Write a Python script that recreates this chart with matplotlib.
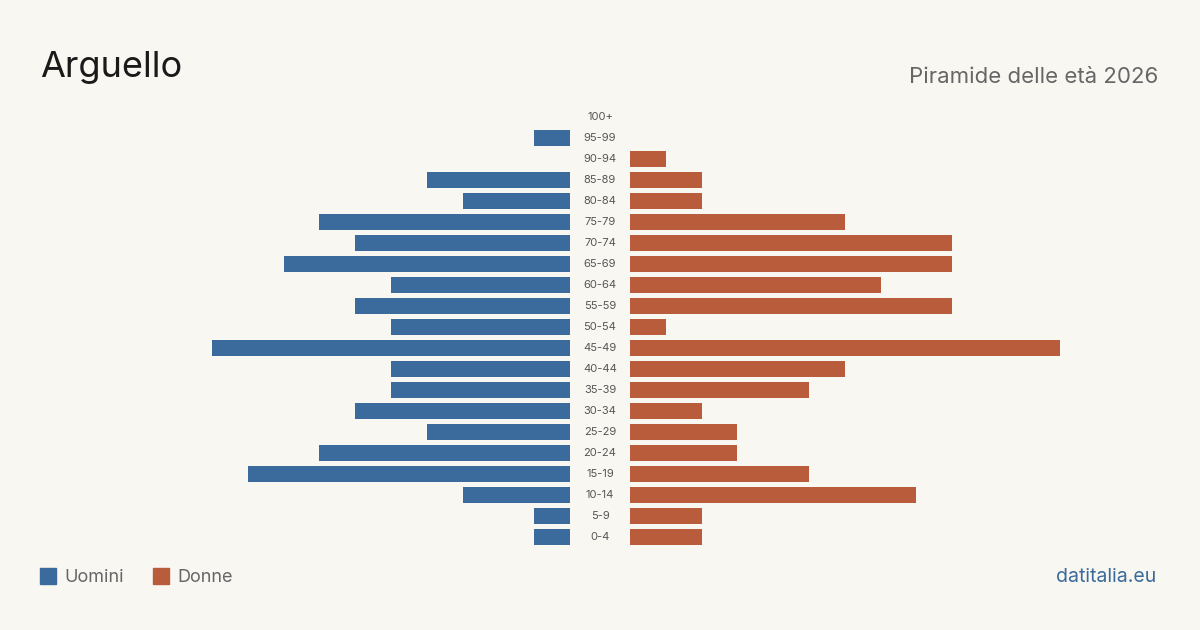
import matplotlib.pyplot as plt
from matplotlib.patches import Rectangle
import matplotlib.transforms as mtransforms

# dati della piramide (dal basso verso l'alto)
fasce = ["0-4", "5-9", "10-14", "15-19", "20-24", "25-29", "30-34", "35-39",
         "40-44", "45-49", "50-54", "55-59", "60-64", "65-69", "70-74",
         "75-79", "80-84", "85-89", "90-94", "95-99", "100+"]
uomini = [1, 1, 3, 9, 7, 4, 6, 5, 5, 10, 5, 6, 5, 8, 6, 7, 3, 4, 0, 1, 0]
donne = [2, 2, 8, 5, 3, 3, 2, 5, 6, 12, 1, 9, 7, 9, 9, 6, 2, 2, 1, 0, 0]

bg = "#f9f7f2"
blu = "#3a6b9c"
rosso = "#b85c3c"
plt.rcParams['font.family'] = ['Inter', 'DejaVu Sans']

W, H = 1200, 630
fig = plt.figure(figsize=(W / 100, H / 100), dpi=100, facecolor=bg)

top, bottom = 106.5, 547.5
unit = 35.8
ax_l = fig.add_axes([40 / W, 1 - bottom / H, 530 / W, (bottom - top) / H])
ax_r = fig.add_axes([630 / W, 1 - bottom / H, 530 / W, (bottom - top) / H])

y = list(range(len(fasce)))
ax_l.barh(y, uomini, height=0.8, color=blu)
ax_r.barh(y, donne, height=0.8, color=rosso)
ax_l.set_xlim(530 / unit, 0)
ax_r.set_xlim(0, 530 / unit)
for ax in (ax_l, ax_r):
    ax.set_ylim(-0.5, len(fasce) - 0.5)
    ax.axis('off')
    ax.set_facecolor(bg)

# etichette delle fasce al centro
tr = mtransforms.blended_transform_factory(fig.transFigure, ax_l.transData)
for i, f in enumerate(fasce):
    ax_l.text(600 / W, i, f, transform=tr, ha='center', va='center',
              fontsize=8, color='#555555', clip_on=False)

fig.text(40 / W, 1 - 68 / H, "Arguello", fontsize=26, color='#1a1a1a',
         ha='left', va='center')
fig.text(1158 / W, 1 - 77 / H, "Piramide delle età 2026", fontsize=16,
         color='#666666', ha='right', va='center')

# legenda
fig.patches.append(Rectangle((40 / W, 1 - 584 / H), 16 / W, 16 / H,
                             transform=fig.transFigure, color=blu))
fig.text(64 / W, 1 - 577 / H, "Uomini", fontsize=13, color='#666666',
         ha='left', va='center')
fig.patches.append(Rectangle((153 / W, 1 - 584 / H), 16 / W, 16 / H,
                             transform=fig.transFigure, color=rosso))
fig.text(177 / W, 1 - 577 / H, "Donne", fontsize=13, color='#666666',
         ha='left', va='center')
fig.text(1156 / W, 1 - 577 / H, "datitalia.eu", fontsize=14, color=blu,
         ha='right', va='center')

fig.savefig("out.png", dpi=100, facecolor=bg)
